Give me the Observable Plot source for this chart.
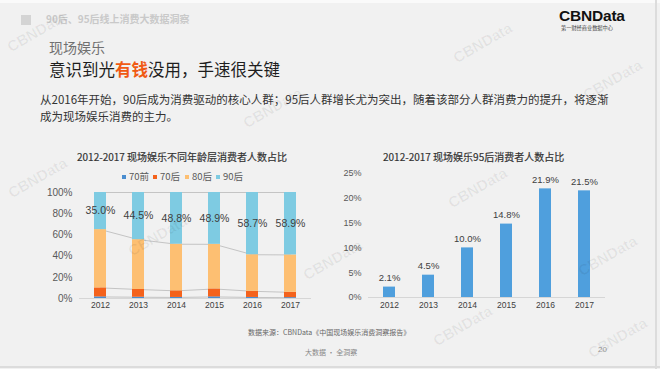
<!DOCTYPE html>
<html><head><meta charset="utf-8">
<script src="https://cdn.jsdelivr.net/npm/d3@7"></script>
<script src="https://cdn.jsdelivr.net/npm/@observablehq/plot@0.6"></script>
<style>
html,body{margin:0;padding:0;}
body{width:660px;height:369px;background:#f1f1f1;position:relative;overflow:hidden;font-family:"Noto Sans CJK SC","Liberation Sans",sans-serif;}
.abs{position:absolute;white-space:nowrap;line-height:1;}
.wm{position:absolute;white-space:nowrap;font-family:"Liberation Sans",sans-serif;font-weight:bold;font-size:15px;color:rgba(0,0,0,0.06);transform:rotate(-30deg);line-height:1;}
.leg{position:absolute;top:172px;font-family:"Noto Sans CJK SC",sans-serif;font-size:9.5px;color:#595959;line-height:1;display:flex;align-items:center;}
.leg span.sw{display:inline-block;width:4px;height:4px;margin-right:3px;}
#left{position:absolute;left:0;top:185px;}
#right{position:absolute;left:330px;top:165px;}
</style></head><body>
<div class="abs" style="left:0;top:0;width:660px;height:3px;background:#fafafa;"></div>
<div class="abs" style="left:655px;top:0;width:2px;height:369px;background:#dcdcdc;"></div>
<div class="abs" style="left:0;top:366px;width:660px;height:2px;background:#dcdcdc;"></div>
<div class="abs" style="left:21px;top:15px;width:10px;height:10px;background:#d4d4d4;"></div>
<div class="abs" style="left:46px;top:14px;font-size:10px;font-weight:bold;color:#c9c9c9;">90后、95后线上消费大数据洞察</div>
<div class="abs" style="left:559px;top:8px;font-family:'Liberation Sans',sans-serif;font-weight:bold;font-size:15.5px;color:#111;letter-spacing:-0.2px;">CBNData</div>
<div class="abs" style="left:561px;top:25px;font-size:5.2px;color:#444;">第一财经商业数据中心</div>
<div class="abs" style="left:49px;top:40px;font-size:14px;color:#707070;">现场娱乐</div>
<div class="abs" style="left:49px;top:61px;font-size:16.5px;color:#1e1e1e;">意识到光<span style="color:#f05a14;font-weight:bold;">有钱</span>没用，手速很关键</div>
<div class="abs" style="left:40px;top:91px;font-size:11.5px;color:#333;line-height:16.5px;">从2016年开始，90后成为消费驱动的核心人群；95后人群增长尤为突出，随着该部分人群消费力的提升，将逐渐<br>成为现场娱乐消费的主力。</div>
<div class="abs" style="left:77px;top:152px;font-size:10px;color:#333;-webkit-text-stroke:0.2px #333;">2012-2017 现场娱乐不同年龄层消费者人数占比</div>
<div class="abs" style="left:383px;top:152px;font-size:10px;color:#333;-webkit-text-stroke:0.2px #333;">2012-2017 现场娱乐95后消费者人数占比</div>
<div id="legend"></div>
<div id="left"></div>
<div id="right"></div>
<div class="abs" style="left:248px;top:329px;font-size:7px;color:#666;">数据来源：CBNData《中国现场娱乐消费洞察报告》</div>
<div class="abs" style="left:305px;top:349px;font-size:7px;color:#888;">大数据 · 全洞察</div>
<div class="abs" style="left:598px;top:346px;font-size:8px;color:#999;font-family:'Liberation Sans',sans-serif;">20</div>
<div class="wm" style="left:4px;top:24px;">CBNData</div>
<div class="wm" style="left:450px;top:35px;">CBNData</div>
<div class="wm" style="left:580px;top:72px;">CBNData</div>
<div class="wm" style="left:240px;top:100px;">CBNData</div>
<div class="wm" style="left:5px;top:170px;">CBNData</div>
<div class="wm" style="left:125px;top:228px;">CBNData</div>
<div class="wm" style="left:300px;top:252px;">CBNData</div>
<div class="wm" style="left:445px;top:180px;">CBNData</div>
<div class="wm" style="left:575px;top:248px;">CBNData</div>
<div class="wm" style="left:430px;top:318px;">CBNData</div>
<div class="wm" style="left:585px;top:330px;">CBNData</div>
<script>
const years = ["2012","2013","2014","2015","2016","2017"];
const groups = ["70前","70后","80后","90后"];
const groupColors = ["#4a8dcf","#f4621c","#fdbf72","#7ecbe2"];
const pre70 = [1.5,1.2,1.0,1.5,1.0,0.8];
const post70 = [8.5,7.3,6.2,7.5,5.8,5.0];
const post80 = [55.0,47.0,44.0,42.1,34.5,35.3];
const post90 = [35.0,44.5,48.8,48.9,58.7,58.9];
const leftTicks = [0,20,40,60,80,100];
const post95 = [2.1,4.5,10.0,14.8,21.9,21.5];
const rightTicks = [0,5,10,15,20,25];
const barBlue = "#4f9fdd";

// legend
const legend = document.getElementById("legend");
const legX = [122,153,185,216];
groups.forEach((g,i)=>{
  const d = document.createElement("div");
  d.className = "leg";
  d.style.left = legX[i]+"px";
  d.innerHTML = `<span class="sw" style="background:${groupColors[i]}"></span>${g}`;
  legend.appendChild(d);
});

const series = [pre70, post70, post80, post90];
const stacked = [];
years.forEach((y,i)=>groups.forEach((g,j)=>stacked.push({year:y, group:g, value:series[j][i]})));
const cum = [];
let run = years.map(()=>0);
series.forEach(s=>{ run = run.map((r,i)=>r+s[i]); cum.push(run.slice()); });
const lineData = cum.map(c=>years.map((y,i)=>({year:y, v:c[i]})));
const labelData = years.map((y,i)=>({year:y, mid: cum[2][i] + post90[i]/2, text: post90[i].toFixed(1)+"%"}));

const font = "'Liberation Sans','Noto Sans CJK SC',sans-serif";
const left = Plot.plot({
  width:330, height:130,
  marginTop:7, marginBottom:17, marginLeft:79, marginRight:19,
  style:{background:"transparent", fontFamily:font, color:"#595959"},
  x:{domain:years, paddingInner:0.69, paddingOuter:0.345, label:null},
  y:{domain:[0,100], label:null},
  color:{domain:groups, range:groupColors},
  marks:[
    Plot.ruleY([0], {stroke:"#d6d6d6"}),
    ...lineData.map(d=>Plot.line(d, {x:"year", y:"v", stroke:"#c4c4c4", strokeWidth:1})),
    Plot.barY(stacked, {x:"year", y:"value", fill:"group", order:groups}),
    Plot.text(labelData, {x:"year", y:"mid", text:"text", fill:"#404040", fontSize:10.5}),
    Plot.axisX({tickSize:0, tickPadding:3, fontSize:8.5, fill:"#404040"}),
    Plot.axisY({ticks:leftTicks, tickFormat:d=>d+"%", tickSize:0, tickPadding:7, fontSize:10, fill:"#595959"})
  ]
});
document.getElementById("left").appendChild(left);

const rightData = years.map((y,i)=>({year:y, v:post95[i], text:post95[i].toFixed(1)+"%"}));
const right = Plot.plot({
  width:330, height:150,
  marginTop:8, marginBottom:18, marginLeft:38, marginRight:55,
  style:{background:"transparent", fontFamily:font, color:"#595959"},
  x:{domain:years, paddingInner:0.7, paddingOuter:0.35, label:null},
  y:{domain:[0,25], label:null},
  marks:[
    Plot.barY(rightData, {x:"year", y:"v", fill:barBlue}),
    Plot.ruleY([0], {stroke:"#d6d6d6"}),
    Plot.text(rightData, {x:"year", y:"v", text:"text", dy:-9, fill:"#404040", fontSize:9.5}),
    Plot.axisX({tickSize:0, tickPadding:4, fontSize:8.5, fill:"#404040"}),
    Plot.axisY({ticks:rightTicks, tickFormat:d=>d+"%", tickSize:0, tickPadding:7, fontSize:9, fill:"#595959"})
  ]
});
document.getElementById("right").appendChild(right);
</script>
</body></html>
